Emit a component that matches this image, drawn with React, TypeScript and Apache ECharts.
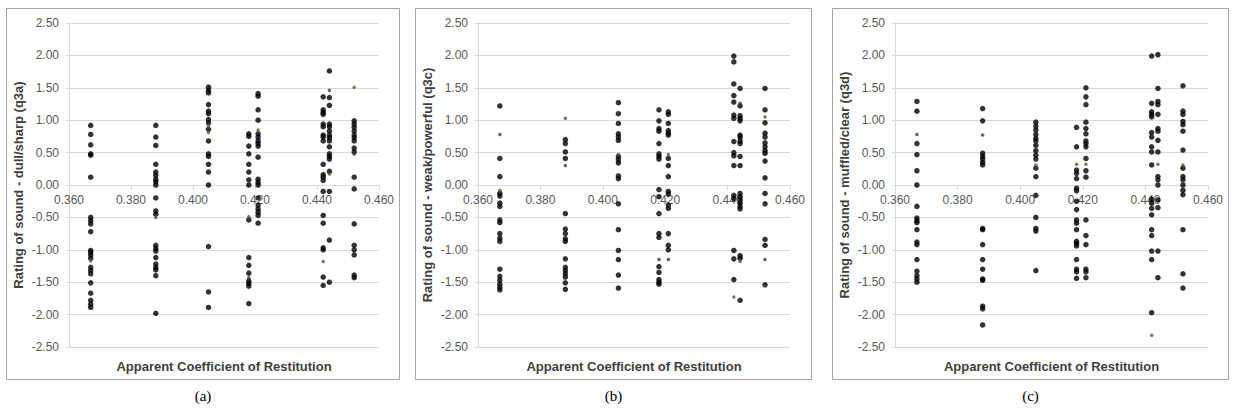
import React, { useEffect, useRef } from "react";
import * as echarts from "echarts";

// Apparent coefficient of restitution of the eight tested balls (x positions of the columns)
const xPositions = [0.367, 0.388, 0.405, 0.418, 0.421, 0.442, 0.444, 0.452];

// (a) dull/sharp ratings, one list per ball
const q3a = [
  [0.92, 0.78, 0.62, 0.48, 0.46, 0.12, -0.5, -0.55, -0.6, -0.72, -1.01, -1.04, -1.08, -1.13, -1.27, -1.32, -1.37, -1.51, -1.67, -1.78, -1.84, -1.89],
  [0.92, 0.74, 0.61, 0.32, 0.2, 0.15, 0.09, 0.05, 0.0, -0.2, -0.4, -0.45, -0.93, -0.98, -1.02, -1.12, -1.22, -1.27, -1.31, -1.4, -1.98],
  [1.51, 1.46, 1.42, 1.24, 1.14, 1.1, 1.01, 0.96, 0.86, 0.68, 0.48, 0.44, 0.32, 0.2, 0.0, -0.95, -1.65, -1.89],
  [0.79, 0.75, 0.6, 0.48, 0.32, 0.2, 0.08, 0.0, -0.54, -1.12, -1.24, -1.36, -1.48, -1.52, -1.56, -1.83],
  [1.41, 1.37, 1.16, 1.0, 0.79, 0.74, 0.68, 0.64, 0.6, 0.43, 0.09, 0.04, 0.0, -0.2, -0.31, -0.37, -0.42, -0.47, -0.59],
  [1.36, 1.16, 1.12, 1.09, 0.94, 0.9, 0.77, 0.74, 0.68, 0.32, 0.16, 0.12, 0.07, -0.1, -0.47, -0.59, -0.97, -1.0, -1.42, -1.55],
  [1.76, 1.35, 1.23, 0.94, 0.9, 0.83, 0.77, 0.73, 0.68, 0.59, 0.48, 0.44, 0.4, 0.21, -0.1, -0.85, -1.5],
  [0.99, 0.94, 0.89, 0.83, 0.77, 0.73, 0.68, 0.57, 0.51, 0.12, -0.06, -0.6, -0.93, -1.0, -1.08, -1.39, -1.43],
];
const q3aGreen = [[0.367, -1.17], [0.388, -0.5], [0.405, 0.91], [0.405, 0.81], [0.418, -0.49], [0.421, 0.85], [0.442, -1.18], [0.444, 0.17], [0.452, 1.51]];
const q3aPurple = [[0.418, -1.43], [0.444, 1.46], [0.452, 0.48]];

// (b) weak/powerful ratings
const q3c = [
  [1.22, 0.41, 0.13, -0.13, -0.17, -0.28, -0.33, -0.54, -0.58, -0.75, -0.82, -0.87, -1.3, -1.41, -1.47, -1.53, -1.58, -1.62],
  [0.7, 0.64, 0.51, 0.41, -0.44, -0.68, -0.75, -0.83, -0.87, -1.14, -1.27, -1.32, -1.37, -1.42, -1.51, -1.61],
  [1.27, 1.1, 0.95, 0.79, 0.74, 0.69, 0.44, 0.39, 0.34, 0.14, 0.1, -0.29, -0.69, -1.01, -1.15, -1.39, -1.59],
  [1.16, 0.99, 0.87, 0.83, 0.64, 0.48, 0.44, 0.4, -0.07, -0.18, -0.44, -0.75, -0.81, -1.26, -1.35, -1.46, -1.5, -1.53],
  [1.13, 1.09, 0.95, 0.84, 0.8, 0.77, 0.41, 0.3, 0.13, -0.1, -0.14, -0.31, -0.36, -0.75, -0.93, -1.0],
  [1.99, 1.9, 1.56, 1.38, 1.28, 1.08, 1.03, 0.67, 0.5, 0.45, 0.3, -0.16, -0.21, -1.01, -1.14, -1.46],
  [1.49, 1.22, 1.07, 1.03, 0.99, 0.77, 0.74, 0.68, 0.64, 0.44, 0.3, -0.13, -0.18, -0.23, -0.28, -0.33, -0.37, -1.09, -1.13, -1.78],
  [1.49, 1.16, 0.96, 0.8, 0.74, 0.65, 0.59, 0.53, 0.49, 0.37, 0.11, -0.13, -0.29, -0.84, -0.93, -1.54],
];
const q3cGreen = [[0.367, -0.08], [0.388, 1.03], [0.405, 0.47], [0.421, 0.47], [0.442, -1.73], [0.444, -1.18], [0.452, 1.05]];
const q3cPurple = [[0.367, 0.78], [0.388, 0.3], [0.418, -1.15], [0.421, -1.15], [0.444, 1.26], [0.452, -1.15]];

// (c) muffled/clear ratings
const q3d = [
  [1.29, 1.14, 0.64, 0.47, 0.22, 0.0, -0.33, -0.51, -0.55, -0.58, -0.69, -0.88, -0.92, -1.15, -1.33, -1.4, -1.45, -1.5],
  [1.18, 0.99, 0.49, 0.44, 0.4, 0.35, 0.31, -0.67, -0.69, -0.92, -1.15, -1.3, -1.45, -1.47, -1.87, -1.91, -2.16],
  [0.97, 0.91, 0.85, 0.78, 0.72, 0.68, 0.61, 0.53, 0.46, 0.4, 0.26, 0.13, -0.16, -0.5, -0.67, -0.71, -1.32],
  [0.89, 0.59, 0.23, 0.18, 0.1, -0.05, -0.09, -0.25, -0.38, -0.54, -0.59, -0.69, -0.87, -0.9, -0.94, -1.15, -1.3, -1.34, -1.44],
  [1.5, 1.36, 1.24, 0.97, 0.87, 0.79, 0.68, 0.64, 0.59, 0.41, 0.22, 0.12, -0.54, -0.78, -0.92, -1.3, -1.34, -1.43],
  [1.99, 1.26, 1.13, 1.09, 1.05, 0.81, 0.74, 0.59, 0.51, 0.31, -0.22, -0.28, -0.36, -0.46, -0.69, -0.78, -1.02, -1.15, -1.97],
  [2.01, 1.49, 1.29, 1.24, 1.09, 0.87, 0.83, 0.69, 0.51, 0.13, 0.08, 0.0, -0.23, -0.35, -1.02, -1.43],
  [1.53, 1.14, 1.09, 0.98, 0.93, 0.83, 0.54, 0.26, 0.13, 0.08, 0.0, -0.08, -0.15, -0.69, -1.37, -1.59],
];
const q3dGreen = [[0.405, 0.31], [0.418, 0.32], [0.421, 0.32], [0.442, -2.32], [0.444, 0.32], [0.452, 0.31]];
const q3dPurple = [[0.367, 0.78], [0.388, 0.77]];

const yTitles = ["Rating of sound - dull/sharp (q3a)", "Rating of sound - weak/powerful (q3c)", "Rating of sound - muffled/clear (q3d)"];
const xTitle = "Apparent Coefficient of Restitution";
const captions = ["(a)", "(b)", "(c)"];

const FONT = '"Liberation Sans", Arial, sans-serif';

export default function App() {
  const ref = useRef<HTMLDivElement>(null);
  useEffect(() => {
    if (!ref.current) return;
    const chart = echarts.init(ref.current, undefined, { renderer: "svg" });
    const panels = [
      { cols: q3a, green: q3aGreen, purple: q3aPurple, left: 69, width: 310, box: [6.5, 393] },
      { cols: q3c, green: q3cGreen, purple: q3cPurple, left: 478, width: 312, box: [415.5, 396] },
      { cols: q3d, green: q3dGreen, purple: q3dPurple, left: 895, width: 313, box: [832.5, 396] },
    ];
    const top = 23;
    const height = 324;
    const grid: any[] = [];
    const xAxis: any[] = [];
    const yAxis: any[] = [];
    const series: any[] = [];
    const graphic: any[] = [];
    panels.forEach((p, i) => {
      grid.push({ left: p.left, top, width: p.width, height });
      xAxis.push({
        gridIndex: i,
        type: "value",
        min: 0.36,
        max: 0.46,
        interval: 0.02,
        position: "bottom",
        offset: -height / 2,
        axisLine: { onZero: false, lineStyle: { color: "#d9d9d9" } },
        axisTick: { show: true, length: 5, lineStyle: { color: "#d9d9d9" } },
        axisLabel: { formatter: (v: number) => v.toFixed(3), color: "#595959", fontSize: 12, fontFamily: FONT, margin: 9 },
        splitLine: { show: false },
      });
      yAxis.push({
        gridIndex: i,
        type: "value",
        min: -2.5,
        max: 2.5,
        interval: 0.5,
        axisLine: { show: true, lineStyle: { color: "#d9d9d9" } },
        axisTick: { show: true, length: 3, lineStyle: { color: "#d9d9d9" } },
        axisLabel: { formatter: (v: number) => v.toFixed(2), color: "#595959", fontSize: 12, fontFamily: FONT, margin: 10 },
        splitLine: { show: true, lineStyle: { color: "#d9d9d9" } },
      });
      const pts: number[][] = [];
      p.cols.forEach((col, j) => col.forEach((v) => pts.push([xPositions[j], v])));
      series.push({ type: "scatter", xAxisIndex: i, yAxisIndex: i, data: pts, symbolSize: 5.5, itemStyle: { color: "#000000" } });
      series.push({ type: "scatter", xAxisIndex: i, yAxisIndex: i, data: p.green, symbolSize: 3.5, itemStyle: { color: "#4f6228" } });
      series.push({ type: "scatter", xAxisIndex: i, yAxisIndex: i, data: p.purple, symbolSize: 3.5, itemStyle: { color: "#403152" } });
      graphic.push({
        type: "rect",
        shape: { x: p.box[0], y: 8.5, width: p.box[1], height: 371 },
        style: { fill: "none", stroke: "#a6a6a6", lineWidth: 1 },
        silent: true,
      });
      graphic.push({
        type: "text",
        x: p.left - 51,
        y: top + height / 2,
        rotation: Math.PI / 2,
        style: { text: yTitles[i], font: `bold 13px ${FONT}`, fill: "#404040", textAlign: "center", textVerticalAlign: "middle", align: "center", verticalAlign: "middle" },
        silent: true,
      });
      graphic.push({
        type: "text",
        x: p.left + p.width / 2,
        y: 366,
        style: { text: xTitle, font: `bold 13px ${FONT}`, fill: "#404040", textAlign: "center", textVerticalAlign: "middle", align: "center", verticalAlign: "middle" },
        silent: true,
      });
      graphic.push({
        type: "text",
        x: p.box[0] + p.box[1] / 2,
        y: 396,
        style: { text: captions[i], font: `15px "Liberation Serif", "Times New Roman", serif`, fill: "#000000", textAlign: "center", textVerticalAlign: "middle", align: "center", verticalAlign: "middle" },
        silent: true,
      });
    });
    chart.setOption({ animation: false, backgroundColor: "#ffffff", grid, xAxis, yAxis, series, graphic });
    return () => chart.dispose();
  }, []);
  return <div ref={ref} style={{ position: "absolute", left: 0, top: 0, width: 1233, height: 414 }} />;
}
